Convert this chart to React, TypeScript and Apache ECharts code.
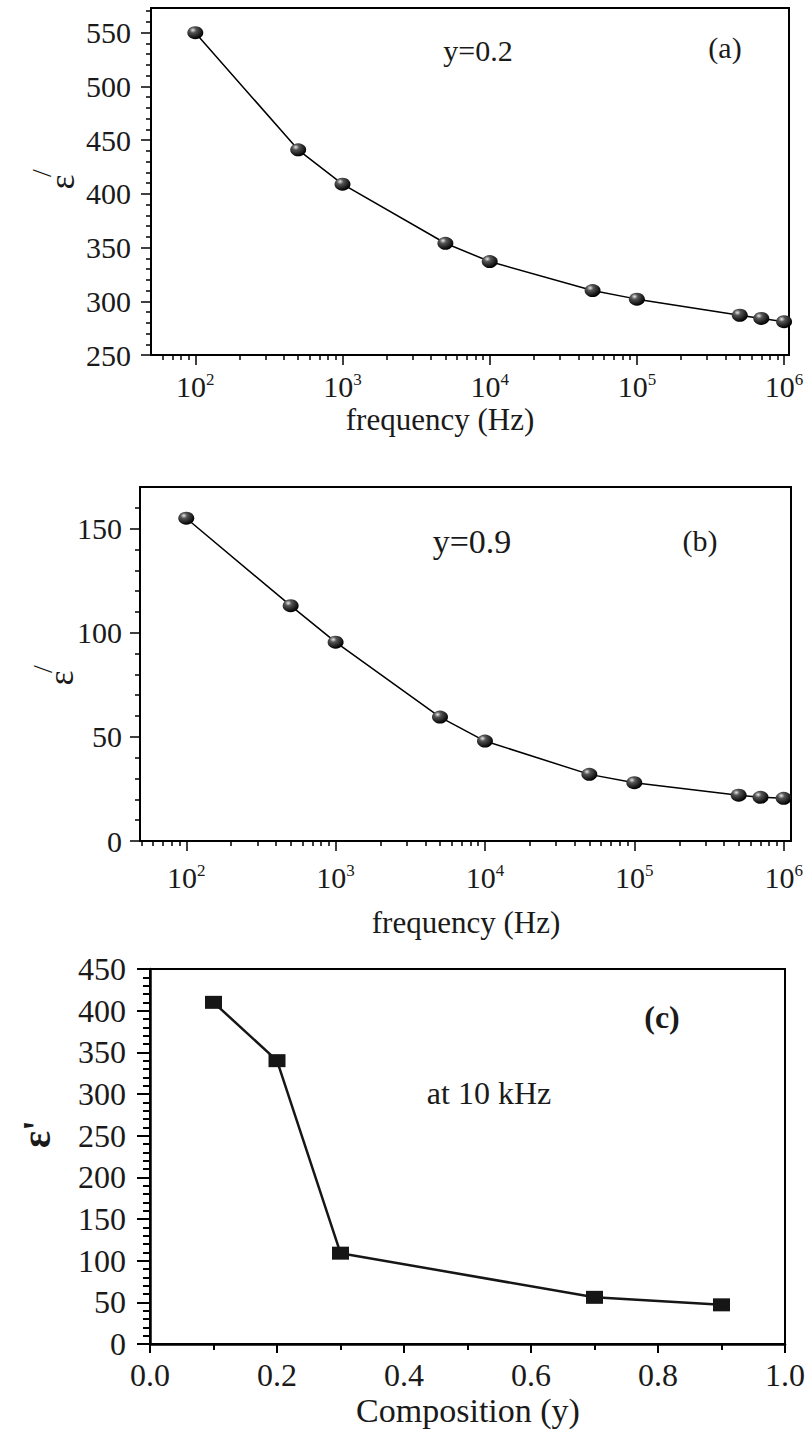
import React, { useEffect, useRef } from "react";
import * as echarts from "echarts";

// ---------- data ----------
const freqHz = [100, 500, 1000, 5000, 10000, 50000, 100000, 500000, 700000, 1000000];
const epsA = [550, 441, 409, 354, 337, 310, 302, 287, 284, 281];
const epsB = [155, 113, 95.5, 59.5, 48, 32, 28, 22, 21, 20.5];
const compY = [0.1, 0.2, 0.3, 0.7, 0.9];
const epsC = [410, 340, 109, 56, 47];

// ---------- ticks ----------
const freqTicks = [1e2, 1e3, 1e4, 1e5, 1e6];
const freqDecades = [10, 100, 1000, 10000, 100000];
const freqMultipliers = [2, 3, 4, 5, 6, 7, 8, 9];
const yTicksA = [250, 300, 350, 400, 450, 500, 550];
const yTicksB = [0, 50, 100, 150];
const yTicksC = [0, 50, 100, 150, 200, 250, 300, 350, 400, 450];
const xTicksC = [0, 0.2, 0.4, 0.6, 0.8, 1.0];

const FMIN = 50;
const FMAX = 1.08e6;
const FMIN_B = 49;
const FMAX_B = 1.12e6;

const FONT = "Liberation Serif";
const INK = "#1a1a1a";

function logMinor(min: number, max: number) {
  const out: number[] = [];
  freqDecades.forEach((d) =>
    freqMultipliers.forEach((m) => {
      const v = m * d;
      if (v > min && v < max) out.push(v);
    })
  );
  return out;
}

function linMinor(lo: number, hi: number, step: number, major: number) {
  const out: number[] = [];
  for (let v = lo + step; v < hi; v += step) {
    if (Math.abs(v % major) > 1e-9) out.push(v);
  }
  return out;
}

const ball = () =>
  new echarts.graphic.RadialGradient(0.35, 0.3, 0.7, [
    { offset: 0, color: "#e8e8e8" },
    { offset: 0.3, color: "#555" },
    { offset: 1, color: "#000" },
  ]);

function logAxes(gridIndex: number, min: number, max: number, margin: number) {
  return [
    {
      type: "log",
      logBase: 10,
      gridIndex,
      min,
      max,
      position: "bottom",
      axisLine: { show: true, onZero: false, lineStyle: { color: "#000", width: 2 } },
      axisTick: { show: true, inside: false, length: 10, lineStyle: { color: "#000", width: 1.5 }, customValues: freqTicks },
      axisLabel: {
        customValues: freqTicks,
        margin,
        color: INK,
        fontFamily: FONT,
        fontSize: 30,
        formatter: (v: number) => `{b|10}{s|${Math.round(Math.log10(v))}}`,
        rich: {
          b: { fontSize: 30, fontFamily: FONT, color: INK },
          s: { fontSize: 17, fontFamily: FONT, color: INK, padding: [0, 0, 14, 0] },
        },
      },
      splitLine: { show: false },
    },
    {
      type: "log",
      logBase: 10,
      gridIndex,
      min,
      max,
      position: "bottom",
      axisLine: { show: false },
      axisLabel: { show: false },
      axisTick: { show: true, inside: false, length: 5, lineStyle: { color: "#000", width: 1.5 }, customValues: logMinor(min, max) },
      splitLine: { show: false },
    },
  ];
}

function linYAxes(gridIndex: number, min: number, max: number, majors: number[], margin: number) {
  return [
    {
      type: "value",
      gridIndex,
      min,
      max,
      position: "left",
      axisLine: { show: true, onZero: false, lineStyle: { color: "#000", width: 2 } },
      axisTick: { show: true, inside: false, length: 10, lineStyle: { color: "#000", width: 1.5 }, customValues: majors },
      axisLabel: { customValues: majors, margin, color: INK, fontFamily: FONT, fontSize: 30 },
      splitLine: { show: false },
    },
    {
      type: "value",
      gridIndex,
      min,
      max,
      position: "left",
      axisLine: { show: false },
      axisLabel: { show: false },
      axisTick: { show: true, inside: false, length: 5, lineStyle: { color: "#000", width: 1.5 }, customValues: linMinor(min, max, 10, 50) },
      splitLine: { show: false },
    },
  ];
}

function txt(x: number, y: number, text: string, fontSize: number, extra: any = {}, rotation = 0) {
  return {
    type: "text",
    x,
    y,
    rotation,
    silent: true,
    style: {
      text,
      fill: INK,
      fontFamily: FONT,
      fontSize,
      fontWeight: extra.fontWeight || "normal",
      textAlign: "center",
      textVerticalAlign: "middle",
      align: "center",
      verticalAlign: "middle",
    },
  };
}

export default function App() {
  const ref = useRef<HTMLDivElement>(null);
  useEffect(() => {
    if (!ref.current) return;
    const chart = echarts.init(ref.current, null, { renderer: "svg" });
    const gridBorder = { show: true, borderColor: "#000", borderWidth: 2, backgroundColor: "transparent" };
    const option: any = {
      animation: false,
      backgroundColor: "#fff",
      textStyle: { fontFamily: FONT },
      grid: [
        { ...gridBorder, left: 151, top: 8, width: 638, height: 347 },
        { ...gridBorder, left: 140, top: 487, width: 651, height: 354 },
        { ...gridBorder, left: 150, top: 969, width: 635, height: 375 },
      ],
      xAxis: [
        ...logAxes(0, FMIN, FMAX, 16),
        ...logAxes(1, FMIN_B, FMAX_B, 21),
        {
          type: "value",
          gridIndex: 2,
          min: 0,
          max: 1,
          interval: 0.2,
          position: "bottom",
          axisLine: { show: true, onZero: false, lineStyle: { color: "#000", width: 2.5 } },
          axisTick: { show: true, inside: false, length: 9, lineStyle: { color: "#000", width: 2 }, customValues: xTicksC },
          minorTick: { show: true, splitNumber: 2, length: 6, lineStyle: { color: "#000", width: 2 } },
          axisLabel: { customValues: xTicksC, margin: 15, color: INK, fontFamily: FONT, fontSize: 32, formatter: (v: number) => v.toFixed(1) },
          splitLine: { show: false },
        },
      ],
      yAxis: [
        ...linYAxes(0, 250, 573, yTicksA, 20),
        ...linYAxes(1, 0, 170, yTicksB, 18),
        {
          type: "value",
          gridIndex: 2,
          min: 0,
          max: 450,
          interval: 50,
          position: "left",
          axisLine: { show: true, onZero: false, lineStyle: { color: "#000", width: 2.5 } },
          axisTick: { show: true, inside: false, length: 13, lineStyle: { color: "#000", width: 2 }, customValues: yTicksC },
          minorTick: { show: true, splitNumber: 5, length: 7, lineStyle: { color: "#000", width: 2 } },
          axisLabel: { customValues: yTicksC, margin: 24, color: INK, fontFamily: FONT, fontSize: 32 },
          splitLine: { show: false },
        },
      ],
      series: [
        {
          type: "line",
          xAxisIndex: 0,
          yAxisIndex: 0,
          data: freqHz.map((f, i) => [f, epsA[i]]),
          symbol: "circle",
          symbolSize: [16, 13],
          itemStyle: { color: ball(), borderWidth: 0 },
          lineStyle: { color: "#000", width: 1.5 },
        },
        {
          type: "line",
          xAxisIndex: 2,
          yAxisIndex: 2,
          data: freqHz.map((f, i) => [f, epsB[i]]),
          symbol: "circle",
          symbolSize: [16, 13],
          itemStyle: { color: ball(), borderWidth: 0 },
          lineStyle: { color: "#000", width: 1.5 },
        },
        {
          type: "line",
          xAxisIndex: 4,
          yAxisIndex: 4,
          data: compY.map((c, i) => [c, epsC[i]]),
          symbol: "rect",
          symbolSize: [17, 13],
          itemStyle: { color: "#161616", borderWidth: 0 },
          lineStyle: { color: "#161616", width: 2.5 },
        },
      ],
      graphic: [
        // panel (a)
        txt(478, 50, "y=0.2", 30),
        txt(725, 47, "(a)", 30),
        txt(440, 419, "frequency (Hz)", 31),
        txt(62, 182, "ε", 36, {}, Math.PI / 2),
        txt(41, 173, "/", 28, {}, Math.PI / 2),
        // panel (b)
        txt(472, 541, "y=0.9", 34),
        txt(700, 540, "(b)", 30),
        txt(466, 922, "frequency (Hz)", 31),
        txt(61, 678, "ε", 36, {}, Math.PI / 2),
        txt(42, 669, "/", 28, {}, Math.PI / 2),
        // panel (c)
        txt(662, 1017, "(c)", 32, { fontWeight: "bold" }),
        txt(489, 1093, "at 10 kHz", 32),
        txt(468, 1410, "Composition (y)", 34),
        txt(36, 1134, "ε'", 40, { fontWeight: "bold" }, Math.PI / 2),
      ],
    };
    chart.setOption(option);
    return () => chart.dispose();
  }, []);
  return <div ref={ref} style={{ position: "absolute", left: 0, top: 0, width: 811, height: 1431 }} />;
}
